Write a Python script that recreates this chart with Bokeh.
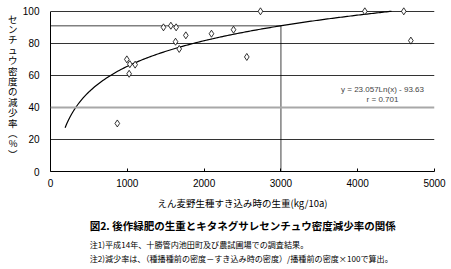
import numpy as np
from bokeh.plotting import figure
from bokeh.layouts import column
from bokeh.models import Range1d, Label, FixedTicker, Span, LinearAxis
from bokeh.core.properties import value
from bokeh.embed import file_html
from bokeh.resources import INLINE

# ---- data ----
biomass = [870, 994, 1024, 1033, 1102, 1471, 1567, 1636, 1628, 1676, 1762,
           2096, 2383, 2556, 2734, 4093, 4600, 4692]           # kg/10a
reduction = [30, 70, 61, 67, 66.7, 90, 91, 90, 81, 76.5, 85,
             86, 88.5, 71.5, 100, 100, 100, 81.7]               # %

# logarithmic trend line stated on the chart
coef_a = 23.057
coef_b = -93.63
trend_start = 190
trend_end = 4440
ref_biomass = 3000

x_ticks = [0, 1000, 2000, 3000, 4000, 5000]
y_ticks = [0, 20, 40, 60, 80, 100]

eq_text = "y = 23.057Ln(x) - 93.63"
r_text = "r = 0.701"
x_title = "えん麦野生種すき込み時の生重(kg/10a)"
y_title = "センチュウ密度の減少率︵%︶"
fig_title = "図2. 後作緑肥の生重とキタネグサレセンチュウ密度減少率の関係"
note1 = "注1)平成14年、十勝管内池田町及び農試圃場での調査結果。"
note2 = "注2)減少率は、（種播種前の密度－すき込み時の密度）/播種前の密度×100で算出。"

JP = "Noto Sans CJK JP"
NUM = "Liberation Sans"

# ---------------- main chart ----------------
p = figure(width=451, height=212, output_backend="svg", toolbar_location=None,
           x_range=Range1d(0, 5000), y_range=Range1d(0, 103),
           min_border_left=50, min_border_right=17, min_border_top=6,
           min_border_bottom=41)
p.outline_line_color = None
p.background_fill_color = "white"
p.border_fill_color = "white"

p.xgrid.grid_line_color = None
p.ygrid.ticker = FixedTicker(ticks=[20, 60, 80, 100])
p.ygrid.grid_line_color = "#333333"
p.ygrid.grid_line_width = 1
p.add_layout(Span(location=40, dimension="width", line_color="#a8a8a8", line_width=2))

p.xaxis.ticker = FixedTicker(ticks=x_ticks)
p.yaxis.ticker = FixedTicker(ticks=y_ticks)
p.yaxis.bounds = (0, 100)
for ax in (p.xaxis[0], p.yaxis[0]):
    ax.axis_line_color = "black"
    ax.axis_line_width = 1
    ax.minor_tick_line_color = None
    ax.major_label_text_font = NUM
    ax.major_label_text_font_size = "10px"
    ax.major_label_text_color = "black"
p.xaxis.major_tick_in = 3
p.xaxis.major_tick_out = 0
p.xaxis.major_tick_line_color = "black"
p.xaxis.major_label_standoff = 7
p.yaxis.major_tick_in = 0
p.yaxis.major_tick_out = 0
p.yaxis.major_label_standoff = 11

p.xaxis.axis_label = x_title
p.xaxis.axis_label_text_font = JP
p.xaxis.axis_label_text_font_size = "9.5px"
p.xaxis.axis_label_text_font_style = "normal"
p.xaxis.axis_label_text_color = "black"
p.xaxis.axis_label_standoff = 6

# stacked (upright) y title: an outer left axis whose tick labels are the characters
chars = list(y_title)
char_pos = [95.5 - 6.5 * i for i in range(len(chars))]
title_axis = LinearAxis(ticker=FixedTicker(ticks=char_pos),
                        major_label_overrides={pos: ch for pos, ch in zip(char_pos, chars)},
                        axis_line_color=None, major_tick_line_color=None,
                        minor_tick_line_color=None,
                        major_tick_in=0, major_tick_out=0,
                        major_label_standoff=2,
                        major_label_text_align="center",
                        major_label_text_font=JP,
                        major_label_text_font_size="9.5px",
                        major_label_text_color="black")
p.add_layout(title_axis, "left")

# reference dotted lines at 3000 kg/10a
ref_y = coef_a * np.log(ref_biomass) + coef_b
p.line([0, ref_biomass], [ref_y, ref_y], line_color="black", line_width=1.5, line_dash="1 1")
p.line([ref_biomass, ref_biomass], [0, ref_y], line_color="black", line_width=1.5, line_dash="1 1")

# trend curve
tx = np.linspace(trend_start, trend_end, 200)
ty = coef_a * np.log(tx) + coef_b
p.line(tx, ty, line_color="black", line_width=1.2)

# points
p.scatter(biomass, reduction, marker="diamond", size=7, fill_color="white",
          line_color="black", line_width=0.8)

# equation
p.add_layout(Label(x=4323, y=51.2, text=eq_text, text_align="center", text_baseline="middle",
                   text_font=NUM, text_font_size="8px", text_color="#444444"))
p.add_layout(Label(x=4323, y=45, text=r_text, text_align="center", text_baseline="middle",
                   text_font=NUM, text_font_size="8px", text_color="#444444"))

# ---------------- caption block ----------------
cap = figure(width=451, height=57, output_backend="svg", toolbar_location=None,
             x_range=Range1d(0, 451), y_range=Range1d(0, 57),
             x_axis_type=None, y_axis_type=None, min_border=0)
cap.outline_line_color = None
cap.grid.visible = False
cap.text([46], [44], text=[fig_title], text_align="left", text_baseline="middle",
         text_font=value(JP), text_font_size="10.5px", text_font_style="bold", text_color="black")
cap.text([46, 46], [25, 11], text=[note1, note2], text_align="left", text_baseline="middle",
         text_font=value(JP), text_font_size="8.1px", text_color="black")

layout = column(p, cap, spacing=0)
open("out.html", "w").write(file_html(layout, INLINE))
